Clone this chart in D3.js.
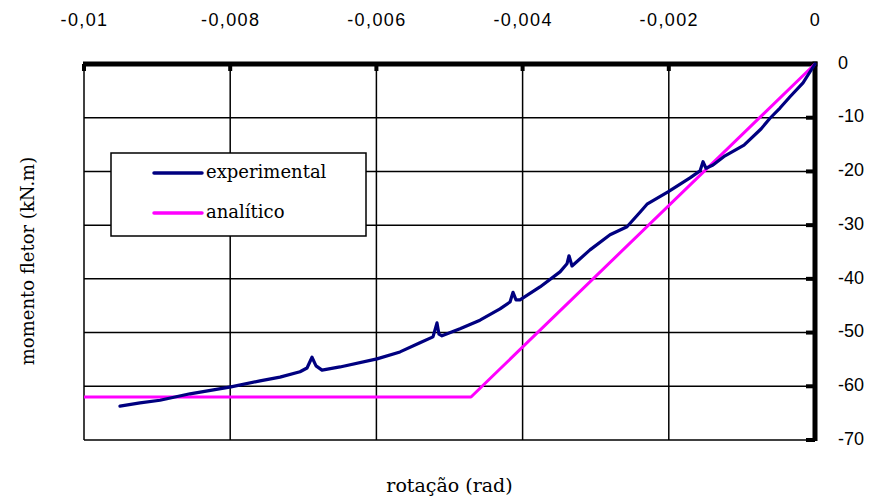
<!DOCTYPE html>
<html>
<head>
<meta charset="utf-8">
<script src="https://cdn.jsdelivr.net/npm/d3@7"></script>
<style>
  html, body { margin: 0; padding: 0; background: #fff; }
  svg { display: block; }
</style>
</head>
<body>
<svg id="chart" width="870" height="500"></svg>
<script>
// ---- data ----
const xTicks = [-0.01, -0.008, -0.006, -0.004, -0.002, 0];
const xTickLabels = ["-0,01", "-0,008", "-0,006", "-0,004", "-0,002", "0"];
const yTicks = [0, -10, -20, -30, -40, -50, -60, -70];
const yTickLabels = ["0", "-10", "-20", "-30", "-40", "-50", "-60", "-70"];

const seriesNames = ["experimental", "analítico"];

const expRotation = [
  -0.009508, -0.009234, -0.008960, -0.008550, -0.007989, -0.007592, -0.007319, -0.007045,
  -0.006949, -0.006881, -0.006826, -0.006744, -0.006498, -0.005992, -0.005677, -0.005404,
  -0.005226, -0.005171, -0.005144, -0.005103, -0.004856, -0.004583, -0.004309, -0.004172,
  -0.004131, -0.004090, -0.004036, -0.003762, -0.003488, -0.003393, -0.003365, -0.003324,
  -0.003078, -0.002804, -0.002572, -0.002394, -0.002298, -0.002011, -0.001710, -0.001573,
  -0.001532, -0.001491, -0.001395, -0.001231, -0.000971, -0.000739, -0.000616, -0.000479,
  -0.000342, -0.000164, 0
];
const expMoment = [
  -63.7, -63.1, -62.6, -61.4, -60.1, -59.0, -58.3, -57.3,
  -56.6, -54.6, -56.2, -57.0, -56.4, -54.9, -53.6, -51.9,
  -50.8, -48.2, -50.3, -50.6, -49.3, -47.7, -45.6, -44.3,
  -42.5, -43.9, -43.9, -41.5, -38.7, -37.2, -35.7, -37.6,
  -34.6, -31.8, -30.3, -27.6, -26.1, -23.8, -21.2, -19.9,
  -18.2, -19.4, -18.8, -17.1, -15.1, -12.1, -10.1, -8.2,
  -6.1, -3.5, 0
];
const anaRotation = [-0.01, -0.004706, 0];
const anaMoment = [-62.0, -62.0, 0];

// ---- layout ----
const svg = d3.select("#chart");
const x = d3.scaleLinear().domain([-0.01, 0]).range([84, 815]);
const y = d3.scaleLinear().domain([-70, 0]).range([440, 64]);

const black = "#000";
const gridW = 1.5;

// gridlines
svg.append("g").selectAll("line").data(xTicks).join("line")
  .attr("x1", d => x(d)).attr("x2", d => x(d))
  .attr("y1", y(0)).attr("y2", y(-70))
  .attr("stroke", black).attr("stroke-width", gridW);
svg.append("g").selectAll("line").data(yTicks).join("line")
  .attr("x1", x(-0.01)).attr("x2", x(0))
  .attr("y1", d => y(d)).attr("y2", d => y(d))
  .attr("stroke", black).attr("stroke-width", gridW);

// top axis labels
const topAxis = d3.axisTop(x).tickValues(xTicks)
  .tickFormat((d, i) => xTickLabels[i]).tickSize(0).tickPadding(38);
const gTop = svg.append("g").attr("transform", `translate(0,${y(0)})`).call(topAxis);
gTop.select(".domain").remove();
gTop.selectAll("text")
  .attr("font-family", "Liberation Sans, Arial, sans-serif")
  .attr("font-size", 18).attr("fill", black)
  .attr("letter-spacing", 1.4);

// right axis labels
const rightAxis = d3.axisRight(y).tickValues(yTicks)
  .tickFormat((d, i) => yTickLabels[i]).tickSize(0).tickPadding(23);
const gRight = svg.append("g").attr("transform", `translate(${x(0)},0)`).call(rightAxis);
gRight.select(".domain").remove();
gRight.selectAll("text")
  .attr("font-family", "Liberation Sans, Arial, sans-serif")
  .attr("font-size", 18).attr("fill", black)
  .attr("y", -1.5);

// thick axis bars
svg.append("line").attr("x1", x(-0.01) - 1).attr("x2", x(0) + 2.5)
  .attr("y1", y(0)).attr("y2", y(0)).attr("stroke", black).attr("stroke-width", 5);
svg.append("line").attr("x1", x(0)).attr("x2", x(0))
  .attr("y1", y(0) - 2.5).attr("y2", y(-70) + 1)
  .attr("stroke", black).attr("stroke-width", 5);

// tick nubs
svg.append("g").selectAll("rect").data(xTicks).join("rect")
  .attr("x", d => x(d) - 2).attr("y", y(0)).attr("width", 4).attr("height", 7)
  .attr("fill", black);
svg.append("g").selectAll("rect").data(yTicks.filter(d => d !== 0)).join("rect")
  .attr("x", x(0) - 9).attr("y", d => y(d) - 2).attr("width", 9).attr("height", 4)
  .attr("fill", black);

// legend
const lg = svg.append("g");
lg.append("rect").attr("x", 111).attr("y", 153).attr("width", 255).attr("height", 83)
  .attr("fill", "#fff").attr("stroke", black).attr("stroke-width", 1.5);
const legendColors = ["#000080", "#ff00ff"];
seriesNames.forEach((name, i) => {
  const ly = 173 + i * 40;
  lg.append("line").attr("x1", 154).attr("x2", 202).attr("y1", ly).attr("y2", ly)
    .attr("stroke", legendColors[i]).attr("stroke-width", 3.5).attr("stroke-linecap", "round");
  lg.append("text").attr("x", 206).attr("y", ly + 5)
    .attr("font-family", "DejaVu Serif, serif").attr("font-size", 18)
    .attr("fill", black).text(name);
});

// series
const line = d3.line().x(d => x(d[0])).y(d => y(d[1]));
const anaData = anaRotation.map((r, i) => [r, anaMoment[i]]);
const expData = expRotation.map((r, i) => [r, expMoment[i]]);

svg.append("path").datum(anaData).attr("d", line)
  .attr("fill", "none").attr("stroke", "#ff00ff").attr("stroke-width", 3)
  .attr("stroke-linejoin", "round");
svg.append("path").datum(expData).attr("d", line)
  .attr("fill", "none").attr("stroke", "#000080").attr("stroke-width", 3.2)
  .attr("stroke-linejoin", "round").attr("stroke-linecap", "round");

// axis titles
svg.append("text").attr("x", 449.5).attr("y", 492).attr("text-anchor", "middle")
  .attr("font-family", "DejaVu Serif, serif").attr("font-size", 19).attr("fill", black)
  .text("rotação (rad)");
svg.append("text").attr("transform", "translate(34,261) rotate(-90)")
  .attr("text-anchor", "middle")
  .attr("font-family", "DejaVu Serif, serif").attr("font-size", 18).attr("fill", black)
  .text("momento fletor (kN.m)");
</script>
</body>
</html>
